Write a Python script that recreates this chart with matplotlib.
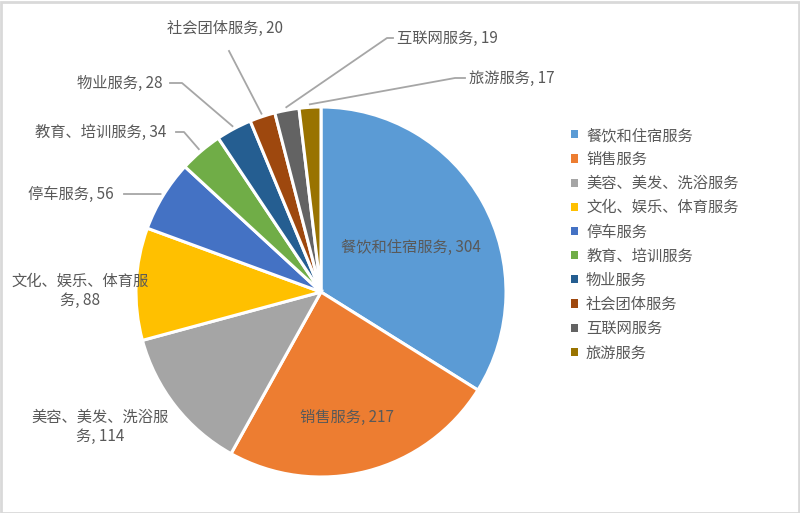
import numpy as np
import matplotlib
matplotlib.use('Agg')
import matplotlib.pyplot as plt
from matplotlib.patches import Rectangle

plt.rcParams['font.family'] = ['Noto Sans CJK SC', 'DejaVu Sans']

# ------------------- Data ------------------- #
categories = ['餐饮和住宿服务', '销售服务', '美容、美发、洗浴服务', '文化、娱乐、体育服务',
              '停车服务', '教育、培训服务', '物业服务', '社会团体服务', '互联网服务', '旅游服务']
counts = [304, 217, 114, 88, 56, 34, 28, 20, 19, 17]
colors = ['#5B9BD5', '#ED7D31', '#A5A5A5', '#FFC000', '#4472C4',
          '#70AD47', '#255E91', '#9E480E', '#636363', '#997300']

# ------------------- Layout (image pixel coords, y from top) ------------------- #
W, H = 800, 513
cx, cy, radius = 321, 292, 185
txt_color = '#595959'
fs = 11

# label text position / alignment, and leader line points before the wedge end
label_layout = {
    '餐饮和住宿服务': dict(xy=(411, 247), ha='center', text='餐饮和住宿服务, 304', line=None),
    '销售服务': dict(xy=(347, 417), ha='center', text='销售服务, 217', line=None),
    '美容、美发、洗浴服务': dict(xy=(100, 427), ha='center', text='美容、美发、洗浴服\n务, 114', line=None),
    '文化、娱乐、体育服务': dict(xy=(80, 291), ha='center', text='文化、娱乐、体育服\n务, 88', line=None),
    '停车服务': dict(xy=(114, 194), ha='right', text='停车服务, 56', line=[(124, 194)]),
    '教育、培训服务': dict(xy=(166, 132), ha='right', text='教育、培训服务, 34', line=[(176, 132), (184, 132)]),
    '物业服务': dict(xy=(163, 83), ha='right', text='物业服务, 28', line=[(170, 83), (182, 83)]),
    '社会团体服务': dict(xy=(225, 28), ha='center', text='社会团体服务, 20', line=[(229, 51)]),
    '互联网服务': dict(xy=(397, 38), ha='left', text='互联网服务, 19', line=[(393, 38), (387, 38)]),
    '旅游服务': dict(xy=(469, 78), ha='left', text='旅游服务, 17', line=[(465, 78), (455, 78)]),
}


def fy(y):
    return H - y


fig = plt.figure(figsize=(W / 100, H / 100), dpi=100)
ax = fig.add_axes([0, 0, 1, 1])

wedges, _ = ax.pie(counts, colors=colors, startangle=90, counterclock=False,
                   center=(cx, fy(cy)), radius=radius,
                   wedgeprops=dict(edgecolor='white', linewidth=2.2))
ax.set_xlim(0, W)
ax.set_ylim(0, H)
ax.set_aspect('equal')
ax.axis('off')

for cat, wedge in zip(categories, wedges):
    lay = label_layout[cat]
    x, y = lay['xy']
    ax.text(x, fy(y), lay['text'], ha=lay['ha'], va='center', fontsize=fs,
            color=txt_color, linespacing=1.15)
    if lay['line'] is not None:
        mid = np.deg2rad((wedge.theta1 + wedge.theta2) / 2)
        ex = cx + (radius + 3) * np.cos(mid)
        ey = fy(cy) + (radius + 3) * np.sin(mid)
        pts = [(px, fy(py)) for px, py in lay['line']] + [(ex, ey)]
        ax.plot([p[0] for p in pts], [p[1] for p in pts], color='#A6A6A6', lw=1.3)

leg = fig.legend(wedges, categories, loc='upper left',
                 bbox_to_anchor=(557 / W, 1 - 113 / H), frameon=False,
                 handlelength=0.45, handleheight=0.45, handletextpad=0.55,
                 labelspacing=0.47, fontsize=fs)
for t in leg.get_texts():
    t.set_color(txt_color)
for h in leg.legend_handles:
    h.set_linewidth(0)

fig.patches.append(Rectangle((0.5 / W, 0.5 / H), 1 - 2 / W, 1 - 2 / H, transform=fig.transFigure,
                             fill=False, edgecolor='#D9D9D9', linewidth=2))

fig.savefig('out.png', dpi=100, facecolor='white')
